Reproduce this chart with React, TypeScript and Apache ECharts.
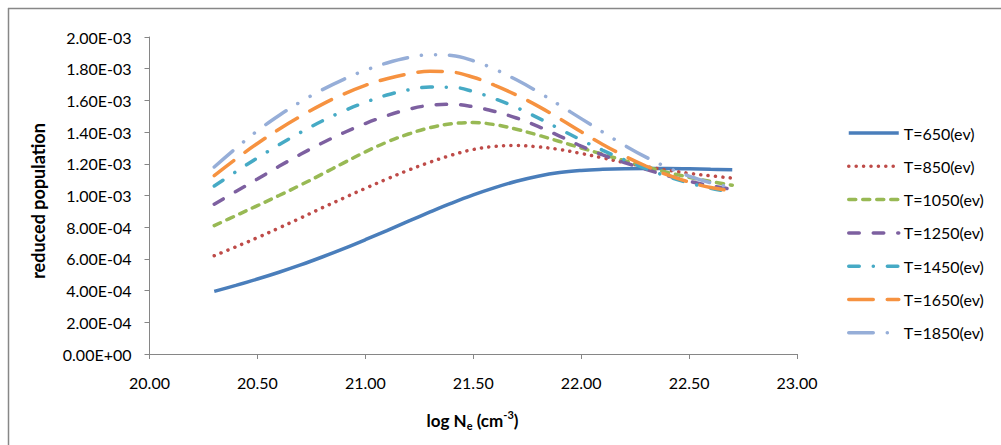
import React, { useEffect, useRef } from "react";
import * as echarts from "echarts";

// log Ne (cm^-3)
const logNe = [20.3, 20.4, 20.5, 20.6, 20.7, 20.8, 20.9, 21.0, 21.1, 21.2, 21.3, 21.4, 21.5, 21.6, 21.7, 21.8, 21.9, 22.0, 22.1, 22.2, 22.3, 22.4, 22.5, 22.6, 22.7];

// reduced population, in units of 1E-04
const t650 = [3.95, 4.33, 4.73, 5.16, 5.62, 6.12, 6.65, 7.21, 7.79, 8.38, 8.96, 9.52, 10.04, 10.5, 10.9, 11.22, 11.45, 11.58, 11.65, 11.69, 11.7, 11.7, 11.68, 11.65, 11.62];
const t850 = [6.2, 6.76, 7.34, 7.95, 8.58, 9.22, 9.84, 10.45, 11.04, 11.6, 12.1, 12.55, 12.9, 13.1, 13.15, 13.07, 12.9, 12.65, 12.37, 12.08, 11.82, 11.6, 11.4, 11.24, 11.1];
const t1050 = [8.1, 8.73, 9.36, 10.0, 10.66, 11.35, 12.06, 12.75, 13.37, 13.88, 14.28, 14.53, 14.6, 14.47, 14.18, 13.81, 13.41, 13.0, 12.6, 12.2, 11.81, 11.46, 11.15, 10.88, 10.65];
const t1250 = [9.45, 10.25, 11.04, 11.84, 12.6, 13.31, 13.96, 14.54, 15.04, 15.44, 15.69, 15.75, 15.6, 15.3, 14.89, 14.36, 13.75, 13.12, 12.56, 12.08, 11.65, 11.25, 10.9, 10.61, 10.4];
const t1450 = [10.6, 11.5, 12.37, 13.2, 13.98, 14.7, 15.33, 15.88, 16.34, 16.66, 16.84, 16.83, 16.56, 16.1, 15.55, 14.9, 14.2, 13.5, 12.85, 12.25, 11.7, 11.2, 10.79, 10.46, 10.2];
const t1650 = [11.25, 12.3, 13.28, 14.18, 15.0, 15.75, 16.4, 16.95, 17.37, 17.67, 17.84, 17.79, 17.46, 16.95, 16.34, 15.64, 14.85, 14.02, 13.22, 12.5, 11.86, 11.3, 10.85, 10.5, 10.3];
const t1850 = [11.8, 12.98, 14.08, 15.05, 15.91, 16.67, 17.33, 17.9, 18.36, 18.7, 18.88, 18.84, 18.5, 17.96, 17.3, 16.54, 15.7, 14.85, 14.0, 13.17, 12.42, 11.77, 11.22, 10.8, 10.5];

const seriesNames = ["T=650(ev)", "T=850(ev)", "T=1050(ev)", "T=1250(ev)", "T=1450(ev)", "T=1650(ev)", "T=1850(ev)"];
const seriesValues = [t650, t850, t1050, t1250, t1450, t1650, t1850];

const xTicks = { min: 20, max: 23, interval: 0.5 };
const yTicks = { min: 0, max: 0.002, interval: 0.0002 };

const colors = ["#4A7EBB", "#BE4B48", "#98B954", "#7D60A0", "#46AAC5", "#F69240", "#96AED8"];
const dashes: any[] = [
  "solid",
  [0.1, 7.3],
  [7, 7],
  [10.5, 14],
  [10.5, 14, 0.1, 14],
  [24.5, 14],
  [24.5, 14, 0.1, 14, 0.1, 14],
];

function fmtExp(v: number): string {
  if (v === 0) return "0.00E+00";
  const s = v.toExponential(2);
  const [m, e] = s.split("e");
  const n = parseInt(e, 10);
  const sign = n < 0 ? "-" : "+";
  const abs = Math.abs(n);
  return m + "E" + sign + (abs < 10 ? "0" + abs : String(abs));
}

export default function App() {
  const ref = useRef<HTMLDivElement>(null);
  useEffect(() => {
    document.body.style.margin = "0";
    const chart = echarts.init(ref.current!, undefined, { renderer: "svg" });
    const font = "Lato";
    chart.setOption({
      animation: false,
      backgroundColor: "#ffffff",
      grid: { left: 149.5, top: 37, right: 204, bottom: 91, containLabel: false },
      legend: {
        orient: "vertical",
        left: 842,
        top: 120,
        itemWidth: 50,
        itemHeight: 14,
        itemGap: 17.3,
        itemStyle: { opacity: 0 },
        lineStyle: { width: 3.5 },
        textStyle: { fontFamily: font, fontSize: 16, color: "#000" },
        data: seriesNames,
      },
      xAxis: {
        type: "value",
        min: xTicks.min,
        max: xTicks.max,
        interval: xTicks.interval,
        axisLine: { lineStyle: { color: "#868686", width: 1 } },
        axisTick: { show: true, inside: false, length: 5, lineStyle: { color: "#868686" } },
        splitLine: { show: false },
        axisLabel: {
          margin: 20,
          fontFamily: font,
          fontSize: 16,
          color: "#000",
          formatter: (v: number) => v.toFixed(2),
        },
      },
      yAxis: {
        type: "value",
        min: yTicks.min,
        max: yTicks.max,
        interval: yTicks.interval,
        axisLine: { show: true, lineStyle: { color: "#868686", width: 1 } },
        axisTick: { show: true, inside: false, length: 5, lineStyle: { color: "#868686" } },
        splitLine: { show: false },
        axisLabel: {
          margin: 18,
          fontFamily: font,
          fontSize: 16,
          color: "#000",
          formatter: (v: number) => fmtExp(v),
        },
      },
      graphic: [
        { type: "line", shape: { x1: 8, y1: 8.5, x2: 1001, y2: 8.5 }, style: { stroke: "#878787", lineWidth: 1.5 } },
        { type: "line", shape: { x1: 8.5, y1: 8, x2: 8.5, y2: 445 }, style: { stroke: "#878787", lineWidth: 1.5 } },
        {
          type: "text",
          x: 38,
          y: 201,
          rotation: Math.PI / 2,
          style: {
            text: "reduced population",
            font: "bold 18px Lato",
            fill: "#000",
            align: "center",
            verticalAlign: "middle",
          },
        },
        {
          type: "text",
          x: 472.5,
          y: 420,
          style: {
            text: "{b|log N}{s|e}{b| (cm}{p|-3}{b|)}",
            align: "center",
            verticalAlign: "middle",
            fill: "#000",
            rich: {
              b: { fontFamily: font, fontWeight: "bold", fontSize: 17, lineHeight: 22, fill: "#000", verticalAlign: "middle" },
              s: { fontFamily: font, fontWeight: "bold", fontSize: 11, lineHeight: 22, fill: "#000", verticalAlign: "bottom" },
              p: { fontFamily: font, fontWeight: "bold", fontSize: 11, lineHeight: 22, fill: "#000", verticalAlign: "top" },
            },
          },
        },
      ],
      series: seriesNames.map((name, i) => ({
        name,
        type: "line",
        smooth: 0.4,
        symbol: "none",
        showSymbol: false,
        color: colors[i],
        lineStyle: { color: colors[i], width: 3.5, type: dashes[i], cap: i === 0 ? "butt" : "round" },
        data: logNe.map((x, j) => [x, seriesValues[i][j] * 1e-4]),
      })),
    });
    return () => chart.dispose();
  }, []);
  return <div ref={ref} style={{ width: 1001, height: 445 }} />;
}
